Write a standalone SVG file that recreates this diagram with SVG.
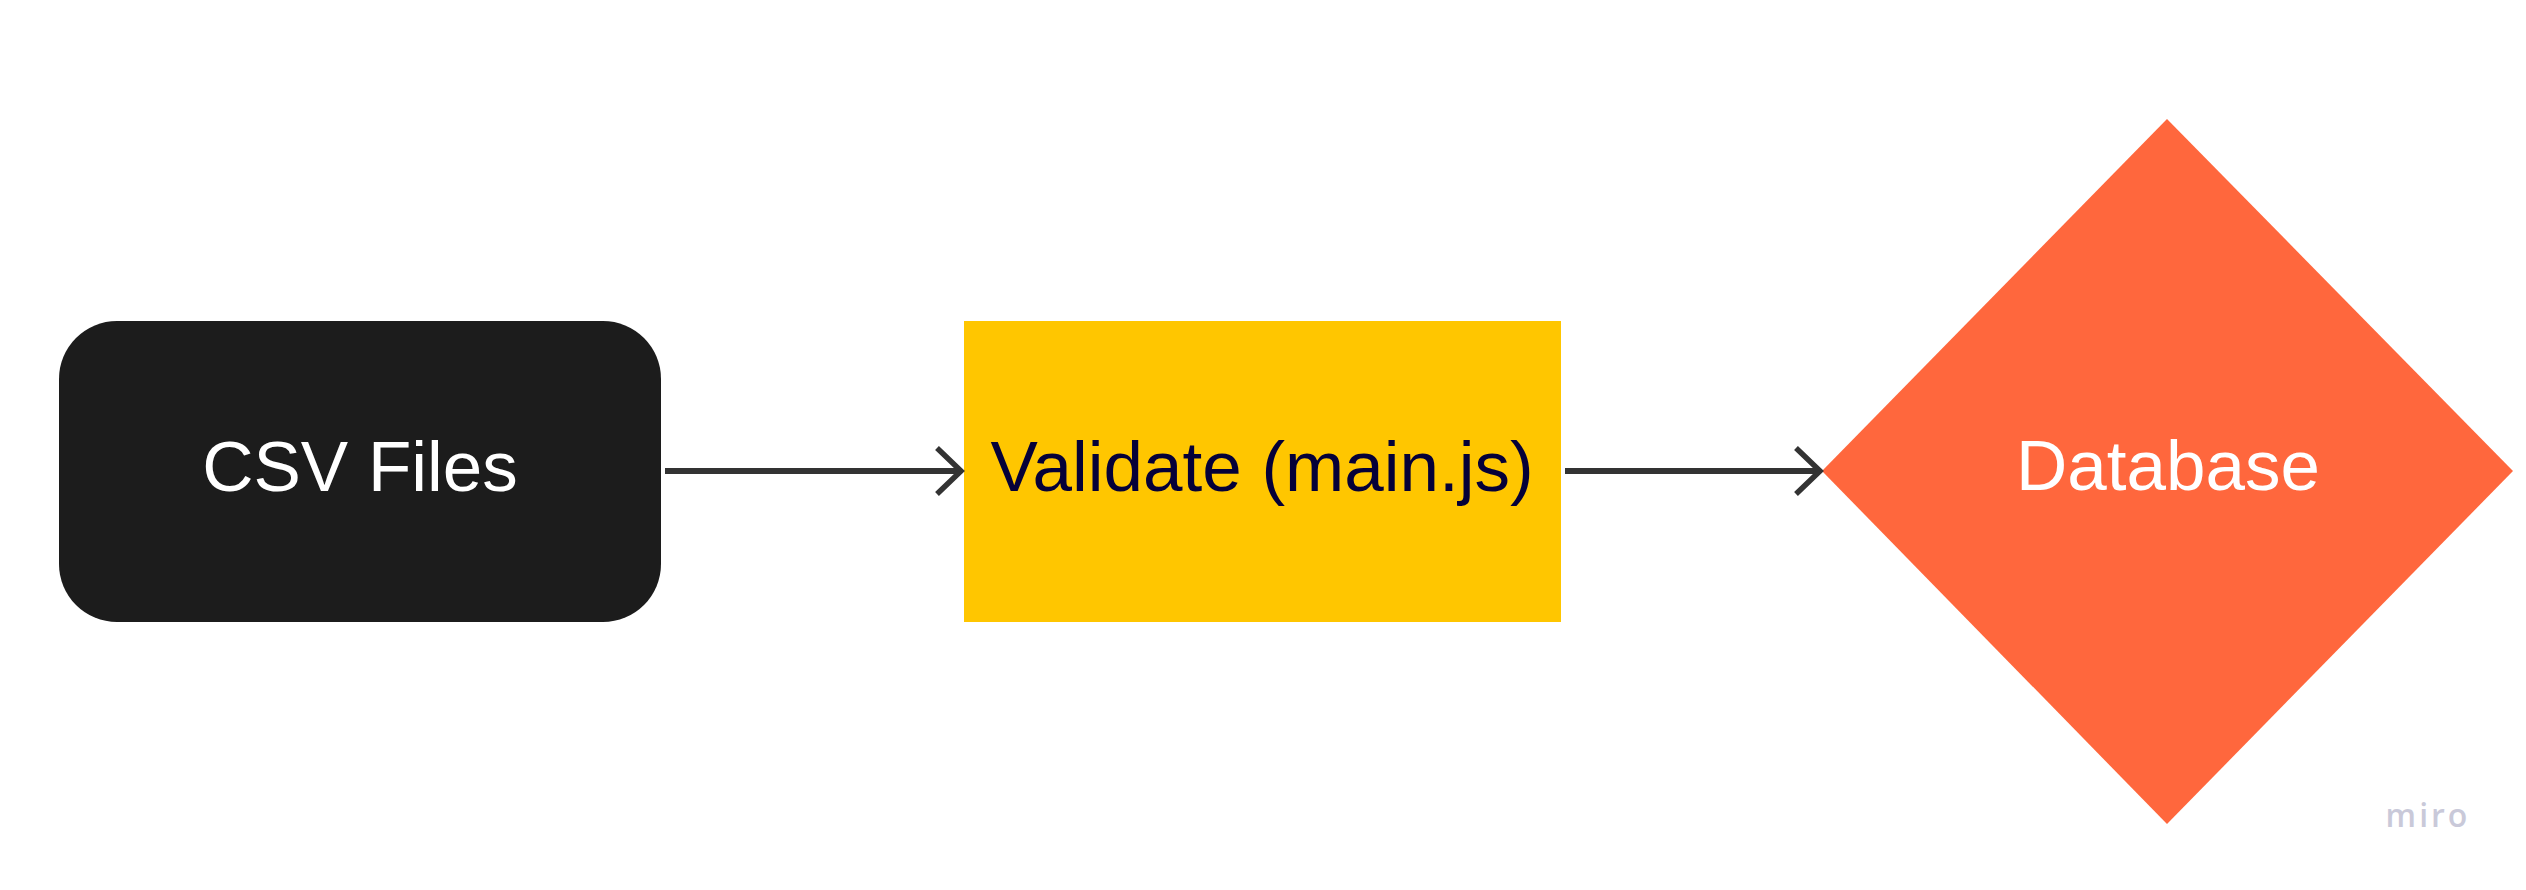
<svg xmlns="http://www.w3.org/2000/svg" width="2526" height="890" viewBox="0 0 2526 890">
<style>
.lbl{font-family:"Liberation Sans",Arial,sans-serif;font-size:71px;text-anchor:middle}
.conn{stroke:#333333;stroke-width:6;fill:none}
.head{stroke:#333333;stroke-width:5.5;fill:none;stroke-linecap:butt;stroke-linejoin:miter}
</style>
<rect width="2526" height="890" fill="#ffffff"/>
<g id="csv-files">
<rect x="59" y="321" width="602" height="301" rx="58" ry="58" fill="#1C1C1C"/>
<text class="lbl" x="360" y="491" fill="#ffffff">CSV Files</text>
</g>
<g id="validate">
<rect x="964" y="321" width="597" height="301" fill="#FFC600"/>
<text class="lbl" x="1262" y="491" fill="#050038">Validate (main.js)</text>
</g>
<g id="database">
<polygon points="2167,119 2513,471 2167,824 1822,471" fill="#FF673D"/>
<text class="lbl" x="2168" y="490" fill="#ffffff">Database</text>
</g>
<g id="connectors">
<line class="conn" x1="665" y1="471" x2="960" y2="471"/>
<polyline class="head" points="937,448 961,471 937,494"/>
<line class="conn" x1="1565" y1="471" x2="1818" y2="471"/>
<polyline class="head" points="1796,448 1820,471 1796,494"/>
</g>
<text x="2428" y="827" font-family="'Open Sans','Liberation Sans',sans-serif" font-size="32" font-weight="600" fill="#C9C9D9" text-anchor="middle" letter-spacing="3">miro</text>
</svg>
